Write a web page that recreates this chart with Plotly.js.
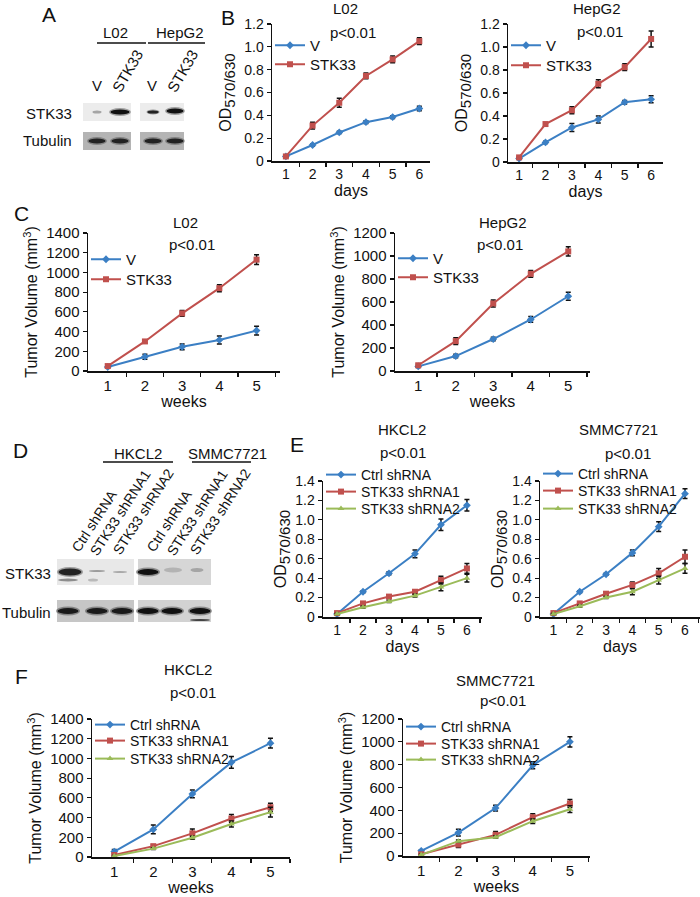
<!DOCTYPE html>
<html>
<head>
<meta charset="utf-8">
<script src="https://cdn.plot.ly/plotly-3.0.1.min.js"></script>
<style>html,body{margin:0;padding:0;background:#fff;}#chart{width:700px;height:897px;}</style>
</head>
<body>
<div id="chart"></div>
<script>
// ---------------- DATA ----------------
const days = [1, 2, 3, 4, 5, 6];
const weeks = [1, 2, 3, 4, 5];
const dayLabels = ['1', '2', '3', '4', '5', '6'];
const weekLabels = ['1', '2', '3', '4', '5'];

// Panel B: MTT, L02
const B_L02_V = [0.04, 0.14, 0.25, 0.34, 0.385, 0.46];
const B_L02_V_err = [0.005, 0.01, 0.01, 0.012, 0.012, 0.02];
const B_L02_STK33 = [0.04, 0.31, 0.51, 0.745, 0.89, 1.05];
const B_L02_STK33_err = [0.005, 0.03, 0.04, 0.025, 0.03, 0.03];
// Panel B: MTT, HepG2
const B_HepG2_V = [0.03, 0.17, 0.30, 0.37, 0.52, 0.545];
const B_HepG2_V_err = [0.005, 0.01, 0.035, 0.03, 0.015, 0.03];
const B_HepG2_STK33 = [0.04, 0.33, 0.45, 0.68, 0.825, 1.07];
const B_HepG2_STK33_err = [0.005, 0.01, 0.03, 0.035, 0.03, 0.07];

// Panel C: tumor volume, L02
const C_L02_V = [40, 145, 245, 315, 410];
const C_L02_V_err = [10, 25, 30, 40, 45];
const C_L02_STK33 = [50, 300, 585, 840, 1130];
const C_L02_STK33_err = [10, 15, 30, 35, 50];
// Panel C: tumor volume, HepG2
const C_HepG2_V = [40, 130, 278, 448, 650];
const C_HepG2_V_err = [10, 15, 15, 25, 35];
const C_HepG2_STK33 = [50, 260, 587, 845, 1040];
const C_HepG2_STK33_err = [10, 30, 30, 30, 40];

// Panel E: MTT, HKCL2
const E_HKCL2_Ctrl = [0.03, 0.26, 0.45, 0.65, 0.95, 1.15];
const E_HKCL2_Ctrl_err = [0.005, 0.01, 0.015, 0.04, 0.06, 0.06];
const E_HKCL2_sh1 = [0.04, 0.14, 0.21, 0.26, 0.38, 0.50];
const E_HKCL2_sh1_err = [0.005, 0.01, 0.02, 0.02, 0.04, 0.05];
const E_HKCL2_sh2 = [0.03, 0.10, 0.16, 0.22, 0.31, 0.40];
const E_HKCL2_sh2_err = [0.005, 0.01, 0.01, 0.015, 0.04, 0.04];
// Panel E: MTT, SMMC7721
const E_SMMC_Ctrl = [0.03, 0.26, 0.44, 0.66, 0.93, 1.27];
const E_SMMC_Ctrl_err = [0.005, 0.01, 0.01, 0.03, 0.05, 0.05];
const E_SMMC_sh1 = [0.04, 0.14, 0.24, 0.33, 0.45, 0.62];
const E_SMMC_sh1_err = [0.005, 0.01, 0.02, 0.03, 0.05, 0.07];
const E_SMMC_sh2 = [0.03, 0.11, 0.20, 0.26, 0.38, 0.50];
const E_SMMC_sh2_err = [0.005, 0.01, 0.01, 0.03, 0.04, 0.05];

// Panel F: tumor volume, HKCL2
const F_HKCL2_Ctrl = [55, 280, 640, 960, 1155];
const F_HKCL2_Ctrl_err = [20, 45, 40, 60, 50];
const F_HKCL2_sh1 = [20, 110, 240, 390, 505];
const F_HKCL2_sh1_err = [10, 15, 45, 40, 40];
const F_HKCL2_sh2 = [10, 85, 195, 335, 455];
const F_HKCL2_sh2_err = [5, 10, 15, 30, 50];
// Panel F: tumor volume, SMMC7721
const F_SMMC_Ctrl = [45, 205, 420, 795, 1000];
const F_SMMC_Ctrl_err = [10, 30, 25, 30, 45];
const F_SMMC_sh1 = [15, 100, 185, 340, 460];
const F_SMMC_sh1_err = [5, 25, 30, 30, 35];
const F_SMMC_sh2 = [10, 130, 165, 305, 410];
const F_SMMC_sh2_err = [5, 10, 10, 20, 30];

// Tick labels
const odTicks = [0, 0.2, 0.4, 0.6, 0.8, 1.0, 1.2];
const odTickText = ['0', '0.2', '0.4', '0.6', '0.8', '1.0', '1.2'];
const odTicks14 = [0, 0.2, 0.4, 0.6, 0.8, 1.0, 1.2, 1.4];
const odTickText14 = ['0', '0.2', '0.4', '0.6', '0.8', '1.0', '1.2', '1.4'];
const tv1400 = [0, 200, 400, 600, 800, 1000, 1200, 1400];
const tv1200 = [0, 200, 400, 600, 800, 1000, 1200];

// Text labels
const seriesNamesBC = ['V', 'STK33'];
const seriesNamesEF = ['Ctrl shRNA', 'STK33 shRNA1', 'STK33 shRNA2'];

// ---------------- STYLE / LAYOUT HELPERS ----------------
const W = 700, H = 897;
const FONT = 'Liberation Sans, Arial, Helvetica, sans-serif';
const BLUE = '#3b7fc4', RED = '#c0504d', GREEN = '#9bbb59';
const px = v => v / W;
const py = v => 1 - v / H;

const traces = [];
const layout = {
  width: W, height: H,
  margin: {l: 0, r: 0, t: 0, b: 0},
  paper_bgcolor: '#fff', plot_bgcolor: 'rgba(0,0,0,0)',
  font: {family: FONT, color: '#111', size: 14},
  showlegend: true,
  annotations: [], shapes: []
};

const styles = [
  {color: BLUE, symbol: 'diamond', size: 6},
  {color: RED, symbol: 'square', size: 6},
  {color: GREEN, symbol: 'triangle-up', size: 6}
];

let legendCount = 0;
function addChart(idx, cfg) {
  const xa = 'xaxis' + (idx === 1 ? '' : idx);
  const ya = 'yaxis' + (idx === 1 ? '' : idx);
  const xid = 'x' + (idx === 1 ? '' : idx);
  const yid = 'y' + (idx === 1 ? '' : idx);
  const minorVals = [];
  for (let k = 1; k <= cfg.x.length; k++) minorVals.push(k + 0.5);
  layout[xa] = {
    domain: [px(cfg.box[0]), px(cfg.box[1])],
    range: cfg.xr, anchor: yid,
    showline: true, linecolor: '#111', linewidth: 1.5,
    showgrid: false, zeroline: false,
    tickmode: 'array', tickvals: cfg.x, ticktext: cfg.xt,
    ticks: '', tickfont: {size: cfg.tfs, family: FONT, color: '#111'},
    minor: {tickmode: 'array', tickvals: minorVals, ticks: 'outside', ticklen: 4, tickcolor: '#111', tickwidth: 1.2},
    title: {text: cfg.xtitle, font: {size: 16, family: FONT, color: '#111'}, standoff: 0},
    fixedrange: true
  };
  layout[ya] = {
    domain: [py(cfg.box[3]), py(cfg.box[2])],
    range: cfg.yr, anchor: xid,
    showline: true, linecolor: '#111', linewidth: 1.5,
    showgrid: false, zeroline: false,
    tickmode: 'array', tickvals: cfg.yt, ticktext: cfg.ytt,
    ticks: 'outside', ticklen: 4, tickcolor: '#111', tickwidth: 1.2,
    tickfont: {size: cfg.tfs, family: FONT, color: '#111'},
    title: {text: cfg.ytitle, font: {size: 16, family: FONT, color: '#111'}, standoff: cfg.ystand},
    fixedrange: true
  };
  const legLeft = Math.max(cfg.leg[0] - 12, cfg.box[0] - 2);
  cfg.series.forEach((s, i) => {
    const st = styles[i];
    legendCount++;
    const lg = 'legend' + (legendCount === 1 ? '' : legendCount);
    traces.push({
      type: 'scatter', mode: 'lines+markers',
      x: cfg.x, y: s.y, name: s.name,
      xaxis: xid, yaxis: yid, legend: lg,
      line: {color: st.color, width: 2},
      marker: {color: st.color, symbol: st.symbol, size: st.size},
      error_y: {type: 'data', array: s.err, visible: true, color: '#111', thickness: 1.5, width: 2.5},
      cliponaxis: false
    });
    layout[lg] = {
      x: px(legLeft), y: py(cfg.leg[1][i] - 13), xanchor: 'left', yanchor: 'top',
      bgcolor: 'rgba(0,0,0,0)', borderwidth: 0,
      font: {size: cfg.lfs, family: FONT, color: '#111'},
      tracegroupgap: 0, itemwidth: 30
    };
  });
  layout.annotations.push(
    {xref: 'paper', yref: 'paper', x: px(cfg.t1[0]), y: py(cfg.t1[1]), text: cfg.title, showarrow: false,
     xanchor: 'center', yanchor: 'middle', font: {size: 15, family: FONT, color: '#111'}},
    {xref: 'paper', yref: 'paper', x: px(cfg.t2[0]), y: py(cfg.t2[1]), text: 'p<0.01', showarrow: false,
     xanchor: 'center', yanchor: 'middle', font: {size: 15, family: FONT, color: '#111'}}
  );
}

const OD = 'OD<sub><span style="font-size:15px">570/630</span></sub>';
const TV = 'Tumor Volume (mm<sup>3</sup>)';

addChart(1, {box: [272, 430, 24, 161], xr: [0.48, 6.4], yr: [0, 1.2], x: days, xt: dayLabels,
  yt: odTicks, ytt: odTickText, tfs: 14, lfs: 15, xtitle: 'days', ytitle: OD, ystand: 8,
  title: 'L02', t1: [345, 9], t2: [353, 32], leg: [282, [42, 61]],
  series: [{name: seriesNamesBC[0], y: B_L02_V, err: B_L02_V_err}, {name: seriesNamesBC[1], y: B_L02_STK33, err: B_L02_STK33_err}]});
addChart(2, {box: [508, 663, 24, 162], xr: [0.58, 6.45], yr: [0, 1.2], x: days, xt: dayLabels,
  yt: odTicks, ytt: odTickText, tfs: 14, lfs: 15, xtitle: 'days', ytitle: OD, ystand: 8,
  title: 'HepG2', t1: [597, 9], t2: [600, 31], leg: [516, [42, 62]],
  series: [{name: seriesNamesBC[0], y: B_HepG2_V, err: B_HepG2_V_err}, {name: seriesNamesBC[1], y: B_HepG2_STK33, err: B_HepG2_STK33_err}]});
addChart(3, {box: [88, 280, 233, 371], xr: [0.47, 5.63], yr: [0, 1400], x: weeks, xt: weekLabels,
  yt: tv1400, ytt: tv1400.map(String), tfs: 15, lfs: 15, xtitle: 'weeks', ytitle: TV, ystand: 4,
  title: 'L02', t1: [185, 222], t2: [192, 244], leg: [95, [256, 276]],
  series: [{name: seriesNamesBC[0], y: C_L02_V, err: C_L02_V_err}, {name: seriesNamesBC[1], y: C_L02_STK33, err: C_L02_STK33_err}]});
addChart(4, {box: [395, 590, 233, 371], xr: [0.38, 5.58], yr: [0, 1200], x: weeks, xt: weekLabels,
  yt: tv1200, ytt: tv1200.map(String), tfs: 15, lfs: 15, xtitle: 'weeks', ytitle: TV, ystand: 4,
  title: 'HepG2', t1: [503, 222], t2: [500, 244], leg: [402, [255, 274]],
  series: [{name: seriesNamesBC[0], y: C_HepG2_V, err: C_HepG2_V_err}, {name: seriesNamesBC[1], y: C_HepG2_STK33, err: C_HepG2_STK33_err}]});
addChart(5, {box: [323, 482, 481, 617], xr: [0.46, 6.58], yr: [0, 1.4], x: days, xt: dayLabels,
  yt: odTicks14, ytt: odTickText14, tfs: 14, lfs: 14, xtitle: 'days', ytitle: OD, ystand: 4,
  title: 'HKCL2', t1: [402, 429], t2: [403, 452], leg: [328, [472, 489, 506]],
  series: [{name: seriesNamesEF[0], y: E_HKCL2_Ctrl, err: E_HKCL2_Ctrl_err}, {name: seriesNamesEF[1], y: E_HKCL2_sh1, err: E_HKCL2_sh1_err}, {name: seriesNamesEF[2], y: E_HKCL2_sh2, err: E_HKCL2_sh2_err}]});
addChart(6, {box: [540, 700, 481, 617], xr: [0.49, 6.57], yr: [0, 1.4], x: days, xt: dayLabels,
  yt: odTicks14, ytt: odTickText14, tfs: 14, lfs: 14, xtitle: 'days', ytitle: OD, ystand: 4,
  title: 'SMMC7721', t1: [618, 429], t2: [628, 453], leg: [546, [471, 488, 506]],
  series: [{name: seriesNamesEF[0], y: E_SMMC_Ctrl, err: E_SMMC_Ctrl_err}, {name: seriesNamesEF[1], y: E_SMMC_sh1, err: E_SMMC_sh1_err}, {name: seriesNamesEF[2], y: E_SMMC_sh2, err: E_SMMC_sh2_err}]});
addChart(7, {box: [92, 290, 719, 857], xr: [0.43, 5.5], yr: [0, 1400], x: weeks, xt: weekLabels,
  yt: tv1400, ytt: tv1400.map(String), tfs: 15, lfs: 14, xtitle: 'weeks', ytitle: TV, ystand: 4,
  title: 'HKCL2', t1: [188, 669], t2: [193, 692], leg: [100, [722, 738, 756]],
  series: [{name: seriesNamesEF[0], y: F_HKCL2_Ctrl, err: F_HKCL2_Ctrl_err}, {name: seriesNamesEF[1], y: F_HKCL2_sh1, err: F_HKCL2_sh1_err}, {name: seriesNamesEF[2], y: F_HKCL2_sh2, err: F_HKCL2_sh2_err}]});
addChart(8, {box: [403, 590, 719, 856], xr: [0.51, 5.54], yr: [0, 1200], x: weeks, xt: weekLabels,
  yt: tv1200, ytt: tv1200.map(String), tfs: 15, lfs: 14, xtitle: 'weeks', ytitle: TV, ystand: 4,
  title: 'SMMC7721', t1: [495, 680], t2: [503, 700], leg: [407, [724, 741, 757]],
  series: [{name: seriesNamesEF[0], y: F_SMMC_Ctrl, err: F_SMMC_Ctrl_err}, {name: seriesNamesEF[1], y: F_SMMC_sh1, err: F_SMMC_sh1_err}, {name: seriesNamesEF[2], y: F_SMMC_sh2, err: F_SMMC_sh2_err}]});

// ---------------- Panel letters and blot labels ----------------
function txt(x, y, text, size, opts) {
  layout.annotations.push(Object.assign({xref: 'paper', yref: 'paper', x: px(x), y: py(y), text: text,
    showarrow: false, xanchor: 'center', yanchor: 'middle', font: {size: size, family: FONT, color: '#111'}}, opts || {}));
}
txt(49, 15, 'A', 21); txt(228, 17, 'B', 21); txt(21, 213, 'C', 21);
txt(20, 450, 'D', 21); txt(297, 444, 'E', 21); txt(21, 676, 'F', 21);

// Panel A blot
txt(115, 33, 'L02', 15); txt(180, 33, 'HepG2', 15);
txt(97, 85, 'V', 15); txt(128, 71, 'STK33', 15, {textangle: -60});
txt(152, 85, 'V', 15); txt(183, 71, 'STK33', 15, {textangle: -60});
txt(74, 113, 'STK33', 15, {xanchor: 'right'}); txt(74, 140, 'Tubulin', 15, {xanchor: 'right'});

// Panel D blot
txt(138, 453, 'HKCL2', 15); txt(227, 453, 'SMMC7721', 15);
const laneLabelsD = [['Ctrl shRNA', 94, 521], ['STK33 shRNA1', 120, 513], ['STK33 shRNA2', 143, 512],
  ['Ctrl shRNA', 169, 521], ['STK33 shRNA1', 197, 513], ['STK33 shRNA2', 220, 512]];
laneLabelsD.forEach(l => txt(l[1], l[2], l[0], 14, {textangle: -57}));
txt(53, 573, 'STK33', 15, {xanchor: 'right'}); txt(53, 612, 'Tubulin', 15, {xanchor: 'right'});

function rect(x0, y0, x1, y1, fill) {
  layout.shapes.push({type: 'rect', xref: 'paper', yref: 'paper', x0: px(x0), x1: px(x1), y0: py(y1), y1: py(y0),
    fillcolor: fill, line: {width: 0}, layer: 'below'});
}
function band(cx, cy, w, h, fill, op) {
  layout.shapes.push({type: 'circle', xref: 'paper', yref: 'paper', x0: px(cx - w / 2), x1: px(cx + w / 2),
    y0: py(cy + h / 2), y1: py(cy - h / 2), fillcolor: fill, opacity: op == null ? 1 : op, line: {width: 0}, layer: 'below'});
}
function hline(x0, x1, y) {
  layout.shapes.push({type: 'line', xref: 'paper', yref: 'paper', x0: px(x0), x1: px(x1), y0: py(y), y1: py(y),
    line: {color: '#111', width: 1.5}});
}
// A
hline(97, 146, 43); hline(148, 205, 43);
rect(83, 103, 131, 121, '#ececec'); rect(140, 103, 184, 121, '#ececec');
rect(83, 132, 131, 150, '#b4b4b4'); rect(140, 132, 184, 150, '#b4b4b4');
band(97, 112, 9, 3, '#777', 0.6);
band(120, 112, 22, 8, '#555', 0.5); band(120, 112, 19, 5, '#111');
band(153, 112, 13, 5, '#444', 0.5); band(153, 112, 11, 3, '#222');
band(175, 111, 20, 8, '#555', 0.5); band(175, 111, 17, 5, '#111');
[97, 120, 153, 175].forEach(c => { band(c, 141, 20, 8, '#555', 0.5); band(c, 141, 17, 5, '#222'); });
// D
hline(103, 173, 462); hline(192, 251, 462);
rect(57, 559, 134, 585, '#e8e8e8'); rect(138, 559, 211, 585, '#d6d6d6');
rect(57, 600, 134, 622, '#c6c6c6'); rect(138, 600, 211, 622, '#d2d2d2');
band(70, 572, 26, 10, '#555', 0.5); band(70, 572, 23, 7, '#222');
band(68, 580, 20, 3, '#666', 0.7);
band(97, 571, 16, 2, '#888', 0.8); band(93, 580, 10, 3, '#999', 0.6);
band(120, 572, 14, 2, '#999', 0.8);
band(148, 572, 24, 9, '#444', 0.5); band(148, 572, 21, 6, '#111');
band(173, 570, 18, 5, '#aaa', 0.8); band(197, 570, 13, 4, '#999', 0.8);
[68, 97, 122].forEach(c => { band(c, 611, 24, 9, '#444', 0.5); band(c, 611, 21, 6, '#1a1a1a'); });
[148, 172, 200].forEach(c => { band(c, 611, 24, 9, '#444', 0.5); band(c, 611, 21, 6, '#111'); });
band(200, 620, 20, 2, '#333', 0.9);

Plotly.newPlot('chart', traces, layout, {staticPlot: true, displayModeBar: false});
</script>
</body>
</html>
